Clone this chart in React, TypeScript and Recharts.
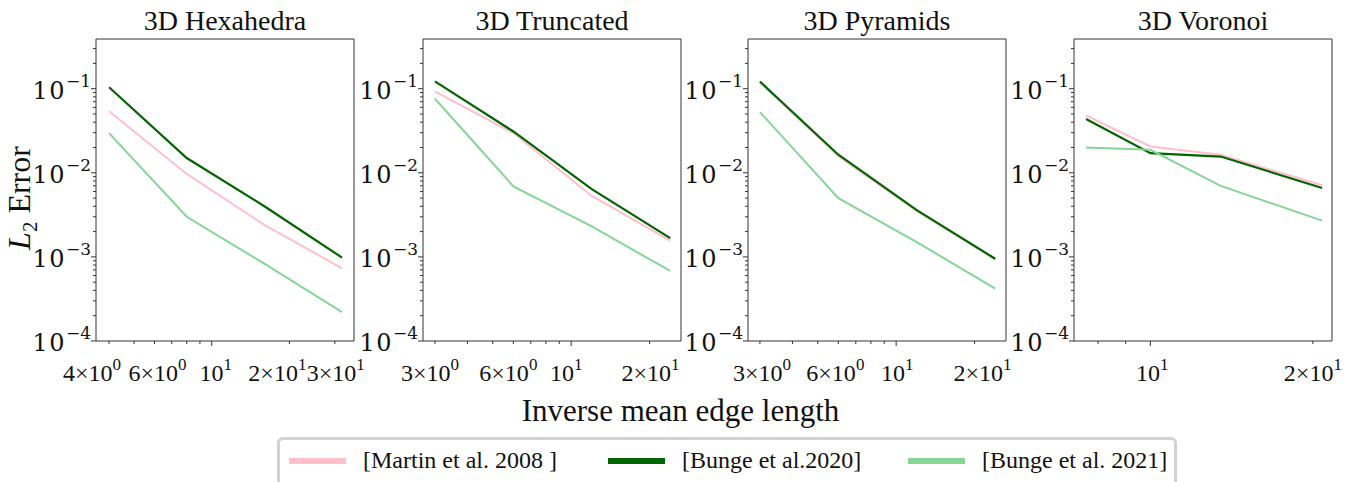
import React from "react";
import { LineChart, Line, XAxis, YAxis, ReferenceArea } from "recharts";

// legend
const seriesNames = ["[Martin et al. 2008 ]", "[Bunge et al.2020]", "[Bunge et al. 2021]"];
const seriesColors = ["#ffc0cb", "#006400", "#86d597"];

// 3D Hexahedra
const hexX = [4, 8, 16, 32];
const hexMartin = [0.054, 0.0097, 0.0024, 0.00073];
const hexBunge20 = [0.104, 0.015, 0.004, 0.00098];
const hexBunge21 = [0.0296, 0.003, 0.00083, 0.00022];

// 3D Truncated
const truncX = [3, 6, 12, 24];
const truncMartin = [0.093, 0.0297, 0.0053, 0.00156];
const truncBunge20 = [0.122, 0.031, 0.0064, 0.00167];
const truncBunge21 = [0.076, 0.0069, 0.0023, 0.00068];

// 3D Pyramids
const pyrX = [3, 6, 12, 24];
const pyrMartin = [0.118, 0.0158, 0.0035, 0.00093];
const pyrBunge20 = [0.122, 0.0164, 0.0036, 0.00095];
const pyrBunge21 = [0.0527, 0.005, 0.0015, 0.00042];

// 3D Voronoi
const vorX = [7.6, 10, 13.5, 20.8];
const vorMartin = [0.048, 0.0206, 0.0164, 0.0071];
const vorBunge20 = [0.0436, 0.0171, 0.0156, 0.0066];
const vorBunge21 = [0.02, 0.0188, 0.007, 0.0027];

const yMajor = [1e-4, 1e-3, 1e-2, 1e-1];
const yMinor = [2, 3, 4, 5, 6, 7, 8, 9];
const yTop = 0.39;

const font = "'Liberation Serif', 'DejaVu Serif', serif";
const mathFont = "'DejaVu Serif', serif";

type Panel = {
  title: string;
  xs: number[];
  martin: number[];
  bunge20: number[];
  bunge21: number[];
  domain: [number, number];
  labelled: number[];
  minor: number[];
  nudge: Record<number, number>; // label shift in px, to keep them apart
  plotLeft: number;
};

const panels: Panel[] = [
  {
    title: "3D Hexahedra",
    xs: hexX,
    martin: hexMartin,
    bunge20: hexBunge20,
    bunge21: hexBunge21,
    domain: [3.56, 35.6],
    labelled: [4, 6, 10, 20, 30],
    minor: [5, 7, 8, 9],
    nudge: { 4: -17, 6: 3, 10: 4, 20: -12, 30: 1 },
    plotLeft: 96,
  },
  {
    title: "3D Truncated",
    xs: truncX,
    martin: truncMartin,
    bunge20: truncBunge20,
    bunge21: truncBunge21,
    domain: [2.7, 26.4],
    labelled: [3, 6, 10, 20],
    minor: [4, 5, 7, 8, 9],
    nudge: { 3: -5, 6: -5, 10: -5, 20: 1 },
    plotLeft: 423,
  },
  {
    title: "3D Pyramids",
    xs: pyrX,
    martin: pyrMartin,
    bunge20: pyrBunge20,
    bunge21: pyrBunge21,
    domain: [2.7, 26.4],
    labelled: [3, 6, 10, 20],
    minor: [4, 5, 7, 8, 9],
    nudge: { 3: 2, 6: -3, 10: 1, 20: 8 },
    plotLeft: 748,
  },
  {
    title: "3D Voronoi",
    xs: vorX,
    martin: vorMartin,
    bunge20: vorBunge20,
    bunge21: vorBunge21,
    domain: [7.22, 21.7],
    labelled: [10, 20],
    minor: [8, 9],
    nudge: { 10: 2, 20: 0 },
    plotLeft: 1074,
  },
];

const plotW = 258;
const plotTop = 39;
const axisW = 80;
const chartH = 400;
const xAxisH = 59;
const rightPad = 40;

const yTicks = [
  ...yMajor,
  ...yMajor.slice(0, 3).flatMap((m) => yMinor.map((k) => k * m)),
  0.2,
  0.3,
];

const YTick = (props: any) => {
  const { x, y, payload } = props;
  const lg = Math.log10(payload.value);
  const exp = Math.round(lg);
  const major = Math.abs(lg - exp) < 1e-6;
  return (
    <g>
      <line x1={x} x2={x - (major ? 5 : 3)} y1={y} y2={y} stroke="#333" strokeWidth={1} />
      {major && (
        <text
          x={x - 5}
          y={y + 10}
          textAnchor="end"
          fontFamily={mathFont}
          fontSize={24}
          letterSpacing={1.5}
          fill="#111"
        >
          10
          <tspan dy={-12} fontSize={17} letterSpacing={0}>
            {"\u2212" + -exp}
          </tspan>
        </text>
      )}
    </g>
  );
};

const makeXTick = (labelled: number[], nudge: Record<number, number>) => (props: any) => {
  const { x, y, payload } = props;
  const v = payload.value;
  const isLab = labelled.includes(v);
  const isTen = v === 10;
  const exp = v >= 10 ? 1 : 0;
  const mant = v >= 10 ? v / 10 : v;
  return (
    <g>
      <line x1={x} x2={x} y1={y} y2={y + (isTen ? 5 : 3)} stroke="#333" strokeWidth={1} />
      {isLab && (
        <text
          x={x + (nudge[v] || 0)}
          y={y + 40}
          textAnchor="middle"
          fontFamily={font}
          fontSize={24}
          fill="#111"
        >
          {isTen ? "10" : mant + "\u00d710"}
          <tspan dy={-11} fontSize={17}>
            {exp}
          </tspan>
        </text>
      )}
    </g>
  );
};

function PanelChart({ p }: { p: Panel }) {
  const data = p.xs.map((x, i) => ({
    x,
    martin: p.martin[i],
    bunge20: p.bunge20[i],
    bunge21: p.bunge21[i],
  }));
  const XTick = makeXTick(p.labelled, p.nudge);
  return (
    <div style={{ position: "absolute", left: p.plotLeft - axisW, top: 0 }}>
      <div
        style={{
          position: "absolute",
          left: axisW,
          width: plotW,
          top: 5,
          textAlign: "center",
          fontFamily: font,
          fontSize: 28,
          color: "#111",
          whiteSpace: "nowrap",
        }}
      >
        {p.title}
      </div>
      <LineChart
        width={axisW + plotW + rightPad}
        height={chartH}
        data={data}
        margin={{ top: plotTop, right: rightPad, bottom: 0, left: 0 }}
      >
        <XAxis
          dataKey="x"
          type="number"
          scale="log"
          domain={p.domain}
          allowDataOverflow
          ticks={[...p.labelled, ...p.minor]}
          interval={0}
          tick={<XTick />}
          tickSize={0}
          tickMargin={0}
          tickLine={false}
          axisLine={false}
          height={xAxisH}
        />
        <YAxis
          type="number"
          scale="log"
          domain={[1e-4, yTop]}
          allowDataOverflow
          ticks={yTicks}
          interval={0}
          tick={<YTick />}
          tickSize={0}
          tickMargin={0}
          tickLine={false}
          axisLine={false}
          width={axisW}
        />
        <Line dataKey="martin" stroke={seriesColors[0]} strokeWidth={2} dot={false} isAnimationActive={false} />
        <Line dataKey="bunge20" stroke={seriesColors[1]} strokeWidth={2.2} dot={false} isAnimationActive={false} />
        <Line dataKey="bunge21" stroke={seriesColors[2]} strokeWidth={2} dot={false} isAnimationActive={false} />
        <ReferenceArea
          x1={p.domain[0]}
          x2={p.domain[1]}
          y1={1e-4}
          y2={yTop}
          fill="none"
          stroke="#333"
          strokeWidth={1}
          ifOverflow="visible"
        />
      </LineChart>
    </div>
  );
}

export default function App() {
  return (
    <div
      style={{
        position: "absolute",
        left: 0,
        top: 0,
        width: 1361,
        height: 482,
        background: "#fff",
        overflow: "hidden",
      }}
    >
      {panels.map((p) => (
        <PanelChart key={p.title} p={p} />
      ))}
      <div
        style={{
          position: "absolute",
          left: 22,
          top: 198,
          transform: "translate(-50%, -50%) rotate(-90deg)",
          fontFamily: font,
          fontSize: 32,
          color: "#111",
          whiteSpace: "nowrap",
        }}
      >
        <i>L</i>
        <sub style={{ fontSize: 21 }}>2</sub> Error
      </div>
      <div
        style={{
          position: "absolute",
          left: 0,
          width: 1361,
          top: 393,
          textAlign: "center",
          fontFamily: font,
          fontSize: 31,
          color: "#111",
        }}
      >
        Inverse mean edge length
      </div>
      <div
        style={{
          position: "absolute",
          left: 277,
          top: 437,
          width: 900,
          height: 70,
          border: "3px solid #d2d2d2",
          borderRadius: 6,
          background: "#fff",
          boxSizing: "border-box",
        }}
      >
        {seriesNames.map((n, i) => (
          <div
            key={n}
            style={{
              position: "absolute",
              left: [9, 328, 628][i],
              top: 7,
              display: "flex",
              alignItems: "center",
              fontFamily: font,
              fontSize: 24,
              color: "#111",
              whiteSpace: "nowrap",
            }}
          >
            <span
              style={{
                display: "inline-block",
                width: 57,
                height: 6,
                background: seriesColors[i],
                marginRight: 17,
              }}
            />
            {n}
          </div>
        ))}
      </div>
    </div>
  );
}
